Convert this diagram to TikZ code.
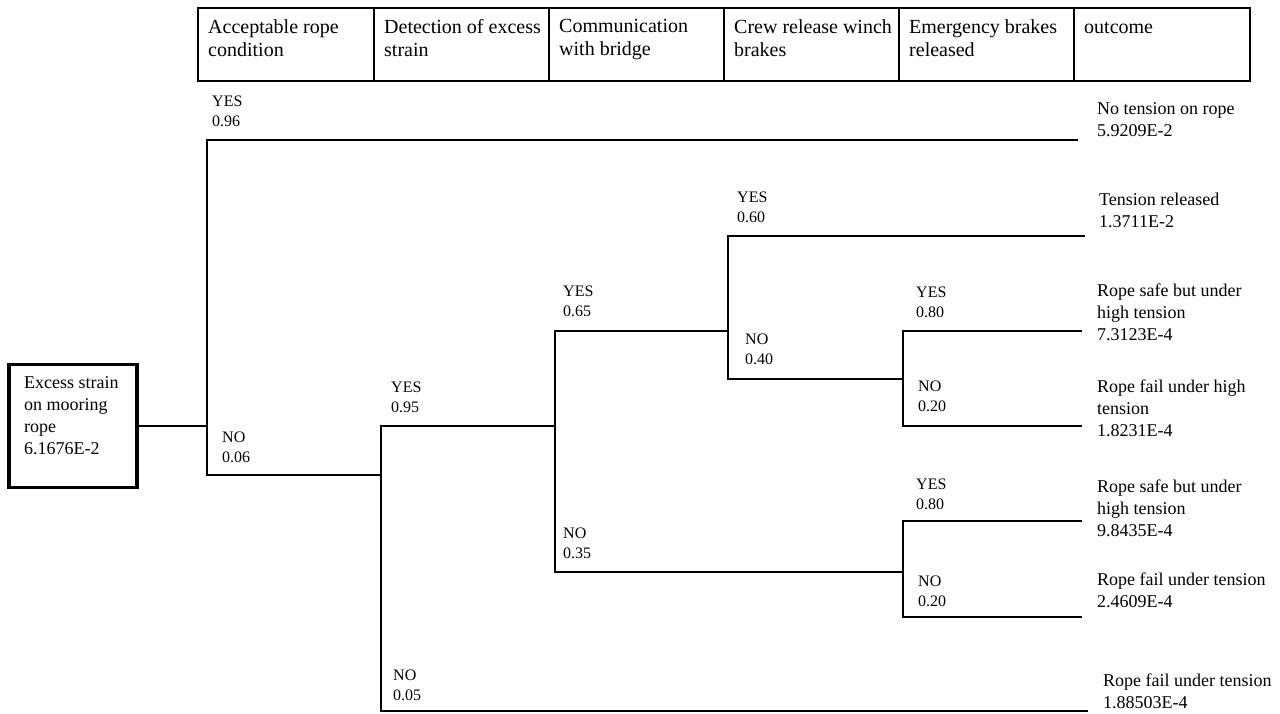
\documentclass[tikz,border=0pt]{standalone}
\usepackage{fontspec}
\setmainfont{Liberation Serif}
\usepackage{tikz}
\usetikzlibrary{positioning}

\tikzset{
  branch/.style={line width=2.3pt},
  lbl/.style={anchor=south west, inner sep=0pt, align=left, font=\fontsize{16}{20}\selectfont},
  outcome/.style={anchor=south west, inner sep=0pt, align=left, font=\fontsize{18}{22}\selectfont},
  hcell/.style={anchor=base west, inner sep=0pt, align=left, font=\fontsize{20}{23}\selectfont}
}

\begin{document}
\begin{tikzpicture}[x=1pt,y=-1pt]
\useasboundingbox (0,0) rectangle (1280,713);
% header row
\draw[line width=2.4pt] (198,8) rectangle (1250,81);
\foreach \x in {374,549,724,899,1074} {
  \draw[line width=2pt] (\x,8) -- (\x,81);
}
\node[hcell, anchor=north west] (h1) at (208,19) {Acceptable rope\\condition};
\node[hcell, anchor=north west] (h2) at (384,19) {Detection of excess\\strain};
\node[hcell, anchor=north west] (h3) at (559,19) {Communication\\with bridge};
\node[hcell, anchor=north west] (h4) at (734,19) {Crew release winch\\brakes};
\node[hcell, anchor=north west] (h5) at (909,19) {Emergency brakes\\released};
\node[hcell] (h6) at (1084,33) {outcome};

% initiating event
\node[draw, line width=3.2pt, minimum width=128pt, minimum height=123pt, inner sep=0pt] (root) at (73,426) {};
\node[anchor=north west, inner sep=0pt, align=left, font=\fontsize{18}{22}\selectfont] (roottxt) at (24,376)
  {Excess strain\\on mooring\\rope\\6.1676E-2};

% split points and branch ends
\coordinate (s1) at (207,426);
\coordinate (s2) at (381,475);
\coordinate (s3) at (555,426);
\coordinate (s4) at (728,331);
\coordinate (s5) at (903,379);
\coordinate (s6) at (903,572);
\coordinate (e1) at (1078,140);
\coordinate (e2) at (1085,236);
\coordinate (e3) at (1082,331);
\coordinate (e4) at (1082,426);
\coordinate (e5) at (1082,521);
\coordinate (e6) at (1082,617);
\coordinate (e7) at (1088,711);

\draw[branch] (root) -- (s1);
\draw[branch] (e1) -| (s1) |- (s2);
\draw[branch] (s3) -| (s2) |- (e7);
\draw[branch] (s4) -| (s3) |- (s6);
\draw[branch] (e2) -| (s4) |- (s5);
\draw[branch] (e3) -| (s5) |- (e4);
\draw[branch] (e5) -| (s6) |- (e6);

% branch labels
\node[lbl] (y1) at (212,127) {YES\\0.96};
\node[lbl] (n1) at (222,463) {NO\\0.06};
\node[lbl] (y2) at (391,413) {YES\\0.95};
\node[lbl] (n2) at (393,701) {NO\\0.05};
\node[lbl] (y3) at (563,317) {YES\\0.65};
\node[lbl] (n3) at (563,559) {NO\\0.35};
\node[lbl] (y4) at (737,223) {YES\\0.60};
\node[lbl] (n4) at (745,365) {NO\\0.40};
\node[lbl] (y5) at (916,318) {YES\\0.80};
\node[lbl] (n5) at (918,412) {NO\\0.20};
\node[lbl] (y6) at (916,510) {YES\\0.80};
\node[lbl] (n6) at (918,607) {NO\\0.20};

% outcomes
\node[outcome] (o1) at (1097,137) {No tension on rope\\5.9209E-2};
\node[outcome] (o2) at (1099,228) {Tension released\\1.3711E-2};
\node[outcome] (o3) at (1097,341) {Rope safe but under\\high tension\\7.3123E-4};
\node[outcome] (o4) at (1097,437) {Rope fail under high\\tension\\1.8231E-4};
\node[outcome] (o5) at (1097,537) {Rope safe but under\\high tension\\9.8435E-4};
\node[outcome] (o6) at (1097,608) {Rope fail under tension\\2.4609E-4};
\node[outcome] (o7) at (1103,709) {Rope fail under tension\\1.88503E-4};
\end{tikzpicture}
\end{document}
